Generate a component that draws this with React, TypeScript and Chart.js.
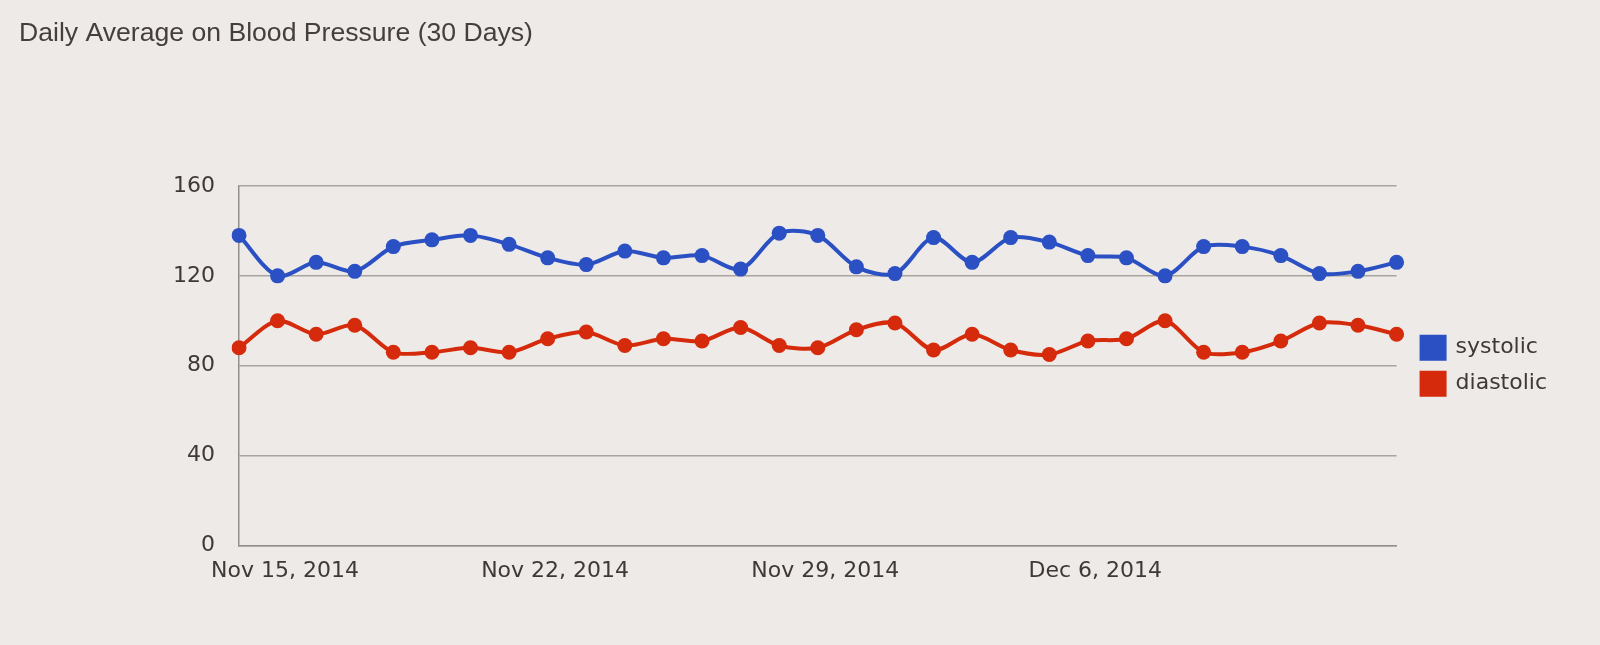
import React, { useRef, useEffect } from "react";
import { Chart, ChartConfiguration, registerables } from "chart.js";
Chart.register(...registerables);

const dates = [
  "Nov 15, 2014", "Nov 16, 2014", "Nov 17, 2014", "Nov 18, 2014", "Nov 19, 2014",
  "Nov 20, 2014", "Nov 21, 2014", "Nov 22, 2014", "Nov 23, 2014", "Nov 24, 2014",
  "Nov 25, 2014", "Nov 26, 2014", "Nov 27, 2014", "Nov 28, 2014", "Nov 29, 2014",
  "Nov 30, 2014", "Dec 1, 2014", "Dec 2, 2014", "Dec 3, 2014", "Dec 4, 2014",
  "Dec 5, 2014", "Dec 6, 2014", "Dec 7, 2014", "Dec 8, 2014", "Dec 9, 2014",
  "Dec 10, 2014", "Dec 11, 2014", "Dec 12, 2014", "Dec 13, 2014", "Dec 14, 2014",
  "Dec 15, 2014",
];

// only these dates get a label on the x axis
const shownDates = ["Nov 15, 2014", "Nov 22, 2014", "Nov 29, 2014", "Dec 6, 2014"];

const systolic = [
  138, 120, 126, 122, 133, 136, 138, 134, 128, 125, 131, 128, 129, 123, 139, 138,
  124, 121, 137, 126, 137, 135, 129, 128, 120, 133, 133, 129, 121, 122, 126,
];

const diastolic = [
  88, 100, 94, 98, 86, 86, 88, 86, 92, 95, 89, 92, 91, 97, 89, 88,
  96, 99, 87, 94, 87, 85, 91, 92, 100, 86, 86, 91, 99, 98, 94,
];

const yMin = 0;
const yMax = 160;
const yStep = 40;

const TEXT = "#3f3836";
const BG = "#edeae7";

const BloodPressureChart: React.FC = () => {
  const chartRef = useRef<HTMLCanvasElement>(null);

  useEffect(() => {
    if (!chartRef.current) return;
    Chart.defaults.font.family = "'DejaVu Sans', sans-serif";
    Chart.defaults.color = TEXT;

    const config: ChartConfiguration = {
      type: "line",
      data: {
        labels: dates,
        datasets: [
          {
            label: "systolic",
            data: systolic,
            borderColor: "#2a50c4",
            backgroundColor: "#2a50c4",
            pointBackgroundColor: "#2a50c4",
            borderWidth: 4,
            pointRadius: 7.5,
            pointBorderWidth: 0,
            tension: 0.3,
            yAxisID: "y",
          },
          {
            label: "diastolic",
            data: diastolic,
            borderColor: "#d52a0b",
            backgroundColor: "#d52a0b",
            pointBackgroundColor: "#d52a0b",
            borderWidth: 4,
            pointRadius: 7.5,
            pointBorderWidth: 0,
            tension: 0.3,
            yAxisID: "y",
          },
        ],
      },
      options: {
        responsive: true,
        maintainAspectRatio: false,
        animation: false,
        layout: { padding: { left: 19, right: 43, top: 0, bottom: 49 } },
        plugins: {
          title: {
            display: true,
            text: "Daily Average on Blood Pressure (30 Days)",
            align: "start",
            color: "#453e3c",
            font: { family: "'Liberation Sans', Arial, sans-serif", size: 26.6, weight: "normal" },
            padding: { top: 18, bottom: 136 },
          },
          legend: {
            position: "right",
            fullSize: false,
            labels: {
              boxWidth: 23,
              boxHeight: 22,
              padding: 14,
              color: TEXT,
              font: { size: 22 },
            },
          },
          tooltip: { enabled: false },
        },
        scales: {
          x: {
            grid: { display: false, drawTicks: false },
            border: { display: true, color: "#948f8b", width: 1.5 },
            ticks: {
              autoSkip: false,
              maxRotation: 0,
              padding: 12,
              labelOffset: 46,
              font: { size: 22 },
              color: TEXT,
              callback: (_v, i) => (shownDates.includes(dates[i]) ? dates[i] : ""),
            },
          },
          y: {
            position: "left",
            min: yMin,
            max: yMax,
            grid: { color: "#a9a4a0", lineWidth: 1.5, drawTicks: false },
            border: { display: true, color: "#948f8b", width: 1.5 },
            ticks: { stepSize: yStep, padding: 24, font: { size: 22 }, color: TEXT },
            afterFit: (scale) => {
              scale.width = 220;
            },
          },
          // empty axis that keeps the legend away from the plot
          gap: {
            type: "linear",
            axis: "y",
            position: "right",
            grid: { display: false },
            border: { display: false },
            ticks: { display: false },
            afterFit: (scale) => {
              scale.width = 11;
            },
          },
        },
      },
    };

    const chart = new Chart(chartRef.current, config);
    return () => {
      chart.destroy();
    };
  }, []);

  return (
    <div style={{ position: "fixed", left: 0, top: 0, width: 1600, height: 645, background: BG }}>
      <canvas ref={chartRef}></canvas>
    </div>
  );
};

export default function App() {
  return <BloodPressureChart />;
}
